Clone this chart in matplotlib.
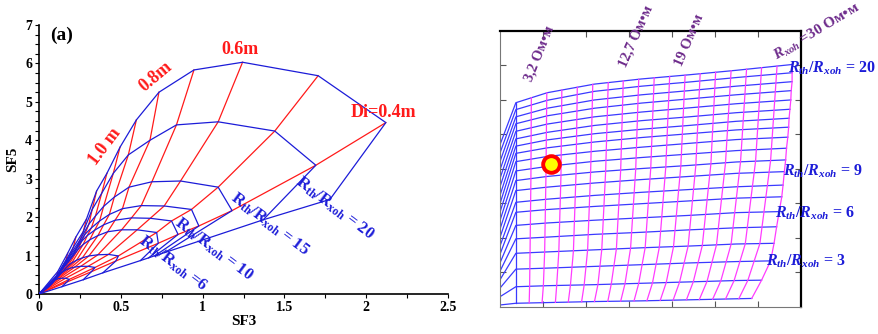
import numpy as np
import matplotlib.pyplot as plt
from matplotlib.ticker import MultipleLocator, FuncFormatter

plt.rcParams['font.family'] = ['Liberation Serif', 'DejaVu Serif']
plt.rcParams['font.weight'] = 'bold'
plt.rcParams['mathtext.fontset'] = 'custom'
plt.rcParams['mathtext.rm'] = 'Liberation Serif:bold'
plt.rcParams['mathtext.it'] = 'Liberation Serif:italic:bold'
plt.rcParams['mathtext.bf'] = 'Liberation Serif:bold'

# ---------- panel (a): SF3 / SF5 chart ----------
# invasion diameters (red lines) and Rth/Rxoh values (blue lines)
di_values = [0.4, 0.5, 0.6, 0.7, 0.8, 0.9, 1.0, 1.1, 1.2, 1.4, 1.6, 1.8, 2.0]
ratio_values = [2, 3, 4, 6, 8, 10, 15, 20, 30]

sf3_grid = [
    [0.17, 0.185, 0.162, 0.138, 0.12, 0.105, 0.093, 0.083, 0.074, 0.061, 0.05, 0.04, 0.028],
    [0.32, 0.342, 0.30, 0.255, 0.218, 0.19, 0.166, 0.146, 0.13, 0.107, 0.087, 0.069, 0.048],
    [0.47, 0.485, 0.425, 0.36, 0.305, 0.265, 0.23, 0.2, 0.178, 0.148, 0.12, 0.094, 0.064],
    [0.729, 0.719, 0.60, 0.505, 0.42, 0.36, 0.31, 0.27, 0.24, 0.195, 0.155, 0.12, 0.082],
    [0.85, 0.81, 0.68, 0.565, 0.465, 0.395, 0.34, 0.295, 0.26, 0.215, 0.17, 0.13, 0.09],
    [0.977, 0.932, 0.765, 0.625, 0.51, 0.43, 0.37, 0.32, 0.28, 0.23, 0.18, 0.14, 0.095],
    [1.18, 1.095, 0.865, 0.69, 0.55, 0.46, 0.395, 0.345, 0.305, 0.25, 0.195, 0.15, 0.10],
    [1.692, 1.441, 1.095, 0.84, 0.678, 0.546, 0.454, 0.383, 0.325, 0.27, 0.21, 0.165, 0.108],
    [2.12, 1.706, 1.244, 0.947, 0.733, 0.595, 0.495, 0.415, 0.352, 0.29, 0.225, 0.175, 0.114],
]
sf5_grid = [
    [0.31, 0.38, 0.41, 0.41, 0.40, 0.38, 0.36, 0.33, 0.30, 0.25, 0.20, 0.15, 0.09],
    [0.58, 0.69, 0.72, 0.72, 0.70, 0.67, 0.63, 0.58, 0.53, 0.43, 0.34, 0.25, 0.15],
    [0.86, 0.99, 1.03, 1.02, 0.99, 0.94, 0.88, 0.81, 0.74, 0.60, 0.47, 0.35, 0.20],
    [1.32, 1.60, 1.67, 1.67, 1.62, 1.52, 1.41, 1.29, 1.17, 0.92, 0.71, 0.51, 0.29],
    [1.55, 1.90, 1.97, 1.98, 1.92, 1.80, 1.66, 1.52, 1.37, 1.07, 0.82, 0.59, 0.33],
    [1.77, 2.20, 2.29, 2.30, 2.22, 2.07, 1.90, 1.72, 1.55, 1.21, 0.92, 0.66, 0.37],
    [2.17, 2.78, 2.94, 2.92, 2.78, 2.52, 2.28, 2.03, 1.82, 1.40, 1.05, 0.76, 0.42],
    [3.35, 4.24, 4.48, 4.40, 4.00, 3.62, 3.14, 2.62, 2.20, 1.62, 1.22, 0.88, 0.48],
    [4.46, 5.68, 6.03, 5.83, 5.25, 4.53, 3.82, 3.14, 2.68, 1.95, 1.48, 1.06, 0.58],
]
# lowest (shallow) curve, drawn in blue
sf3_low = [0.14, 0.27, 0.39, 0.62, 0.67, 0.71, 0.77, 1.37, 1.778]
sf5_low = [0.19, 0.37, 0.55, 0.87, 0.94, 1.00, 1.08, 1.93, 2.46]

# ---------- panel (b): grid chart ----------
rth_ratio = list(range(1, 21))
row_x_anchor = [0, 0.37, 1.1, 2.2, 3.3, 4.4, 5.5]
row_x_end = [5.86, 6.09, 6.30, 6.38, 6.44, 6.50, 6.56, 6.59, 6.62, 6.65,
             6.67, 6.70, 6.72, 6.73, 6.75, 6.77, 6.78, 6.80, 6.80, 6.81]
row_y = [
    [0.05, 0.10, 0.12, 0.15, 0.17, 0.20, 0.23, 0.24],
    [0.29, 0.58, 0.61, 0.64, 0.68, 0.72, 0.76, 0.77],
    [0.54, 1.09, 1.12, 1.17, 1.22, 1.27, 1.31, 1.33],
    [0.78, 1.55, 1.59, 1.65, 1.71, 1.76, 1.82, 1.84],
    [1.03, 1.97, 2.02, 2.10, 2.16, 2.23, 2.29, 2.32],
    [1.27, 2.36, 2.43, 2.51, 2.58, 2.65, 2.73, 2.76],
    [1.52, 2.74, 2.82, 2.91, 2.99, 3.07, 3.15, 3.19],
    [1.76, 3.03, 3.12, 3.23, 3.32, 3.40, 3.48, 3.53],
    [2.01, 3.37, 3.47, 3.59, 3.69, 3.78, 3.87, 3.92],
    [2.25, 3.66, 3.78, 3.91, 4.01, 4.10, 4.20, 4.26],
    [2.50, 3.94, 4.07, 4.22, 4.33, 4.43, 4.53, 4.60],
    [2.74, 4.21, 4.36, 4.51, 4.63, 4.74, 4.85, 4.92],
    [2.99, 4.45, 4.61, 4.78, 4.91, 5.02, 5.13, 5.21],
    [3.23, 4.66, 4.84, 5.02, 5.15, 5.26, 5.38, 5.47],
    [3.48, 4.87, 5.06, 5.26, 5.40, 5.51, 5.63, 5.73],
    [3.72, 5.09, 5.30, 5.51, 5.65, 5.77, 5.89, 6.00],
    [3.97, 5.31, 5.54, 5.76, 5.91, 6.03, 6.15, 6.27],
    [4.21, 5.51, 5.76, 6.00, 6.15, 6.27, 6.40, 6.53],
    [4.46, 5.72, 5.99, 6.25, 6.40, 6.52, 6.65, 6.79],
    [4.70, 5.92, 6.21, 6.46, 6.61, 6.73, 6.86, 7.03],
]
# x of each Rxoh column where it meets rows 1, 2, 4, 10 and 20
col_rows = [1, 2, 4, 10, 20]
col_x = [
    [0.68, 0.98, 1.29, 1.59, 1.90, 2.20, 2.51, 2.81, 3.12, 3.42, 3.73, 4.03, 4.34, 4.64, 4.95, 5.25, 5.56],
    [0.69, 1.01, 1.32, 1.64, 1.96, 2.28, 2.59, 2.91, 3.23, 3.55, 3.87, 4.18, 4.50, 4.82, 5.14, 5.45, 5.77],
    [0.70, 1.04, 1.37, 1.71, 2.04, 2.37, 2.71, 3.04, 3.38, 3.71, 4.04, 4.38, 4.71, 5.04, 5.38, 5.71, 6.05],
    [0.72, 1.07, 1.42, 1.77, 2.11, 2.46, 2.81, 3.16, 3.51, 3.86, 4.21, 4.56, 4.91, 5.25, 5.60, 5.95, 6.30],
    [0.73, 1.09, 1.44, 1.80, 2.16, 2.52, 2.87, 3.23, 3.59, 3.95, 4.31, 4.66, 5.02, 5.38, 5.74, 6.09, 6.45],
]
well_point = (1.19, 4.13)

BLUE = '#1c1cd8'
RED = '#ff1a1a'
ROWBLUE = '#3a3aff'
MAGENTA = '#ff3cff'
PURPLE = '#6e2c8c'

fig = plt.figure(figsize=(8.79, 3.34), dpi=100)

# ===== left panel =====
ax = fig.add_axes([0.0444, 0.1198, 0.4653, 0.8054])
sf3 = np.array(sf3_grid)
sf5 = np.array(sf5_grid)

# red lines: constant Di, starting at the origin
for j in range(len(di_values)):
    ax.plot(np.r_[0, sf3[:, j]], np.r_[0, sf5[:, j]], color=RED, lw=0.9, zorder=2)

# blue lines: constant Rth/Rxoh
for i in range(len(ratio_values)):
    xs = np.r_[sf3_low[i], sf3[i], 0]
    ys = np.r_[sf5_low[i], sf5[i], 0]
    ax.plot(xs, ys, color=BLUE, lw=0.9, zorder=3)
ax.plot(np.r_[0, sf3_low], np.r_[0, sf5_low], color=BLUE, lw=0.9, zorder=3)

ax.set_xlim(0, 2.5)
ax.set_ylim(0, 7)
ax.spines['top'].set_visible(False)
ax.spines['right'].set_visible(False)
for s in ['left', 'bottom']:
    ax.spines[s].set_linewidth(1.2)
ax.xaxis.set_major_locator(MultipleLocator(0.5))
ax.xaxis.set_minor_locator(MultipleLocator(0.25))
ax.yaxis.set_major_locator(MultipleLocator(1))
ax.yaxis.set_minor_locator(MultipleLocator(0.25))
ax.xaxis.set_major_formatter(FuncFormatter(lambda v, p: f'{v:g}'))
ax.yaxis.set_major_formatter(FuncFormatter(lambda v, p: f'{v:g}'))
ax.tick_params(which='both', direction='out', length=3, width=0.8, labelsize=10, pad=2)
ax.set_xlabel('SF3', fontsize=11, fontweight='bold', labelpad=1)
ax.set_ylabel('SF5', fontsize=11, fontweight='bold', labelpad=4)

ax.text(0.14, 6.74, '(a)', fontsize=14, ha='center', va='center')
ax.text(1.23, 6.37, '0.6m', color=RED, fontsize=13, ha='center', va='center')
ax.text(0.713, 5.65, '0.8m', color=RED, fontsize=13, ha='center', va='center',
        rotation=40, rotation_mode='anchor')
ax.text(0.403, 3.83, '1.0 m', color=RED, fontsize=13, ha='center', va='center',
        rotation=53, rotation_mode='anchor')
ax.text(2.103, 4.72, 'Di=0.4m', color=RED, fontsize=13, ha='center', va='center')

left_labels = [(20, 1.81, 2.23, ' = 20'), (15, 1.41, 1.80, ' = 15'),
               (10, 1.065, 1.16, ' = 10'), (6, 0.82, 0.80, ' =6')]
for r, lx, ly, tail in left_labels:
    ax.text(lx, ly, r'$\mathrm{R_{th}/R_{xoh}}$' + tail, color=BLUE, fontsize=12,
            ha='center', va='center', rotation=-37, rotation_mode='anchor')

# ===== right panel =====
bx = fig.add_axes([0.5688, 0.0817, 0.3421, 0.8254])
row_paths = []
for i in range(len(rth_ratio)):
    xs = np.r_[row_x_anchor, row_x_end[i]]
    ys = np.array(row_y[i])
    row_paths.append((xs, ys))
    bx.plot(xs, ys, color=ROWBLUE, lw=0.9, zorder=2)

# corner column and right boundary column
bx.plot([row_x_anchor[1]] * len(rth_ratio), [r[1] for r in row_y], color=ROWBLUE, lw=0.9, zorder=2)
bx.plot(row_x_end, [r[-1] for r in row_y], color=MAGENTA, lw=0.9, zorder=3)

for k in range(len(col_x[0])):
    cx = [col_x[m][k] for m in range(len(col_rows))]
    cy = [np.interp(cx[m], *row_paths[col_rows[m] - 1]) for m in range(len(col_rows))]
    bx.plot(cx, cy, color=MAGENTA, lw=0.9, zorder=3)

bx.plot(*well_point, 'o', ms=12, mfc='#ffff00', mec='#ff0000', mew=2.8, zorder=5)

bx.set_xlim(0, 7)
bx.set_ylim(0, 8)
bx.set_xticks(range(1, 7))
bx.set_yticks(range(1, 8))
bx.tick_params(direction='in', length=4, width=0.8, color='#555555',
               top=True, right=True, labelbottom=False, labelleft=False)
bx.spines['top'].set_linewidth(1.6)
bx.spines['right'].set_linewidth(1.6)
bx.spines['left'].set_color('#777777')
bx.spines['bottom'].set_color('#777777')

right_labels = [(20, 6.71, 6.92, ' = 20'), (9, 6.59, 3.92, ' = 9'),
                (6, 6.40, 2.71, ' = 6'), (3, 6.19, 1.31, ' = 3')]
for r, lx, ly, tail in right_labels:
    bx.text(lx, ly, r'$R_{th}/R_{xoh}$' + tail, color=BLUE, fontsize=11.5,
            ha='left', va='center', clip_on=False, zorder=6)

top_labels = [(0.80, 6.50, '3,2 Ом•м', 68), (3.00, 6.88, '12,7 Ом•м', 66),
              (4.30, 6.92, '19 Ом•м', 67)]
for lx, ly, txt, rot in top_labels:
    bx.text(lx, ly, txt, color=PURPLE, fontsize=10.5, ha='left', va='bottom',
            rotation=rot, rotation_mode='anchor', clip_on=False, zorder=6)
bx.text(6.50, 7.05, r'$R_{xoh}$ =30 Ом•м', color=PURPLE, fontsize=11, ha='left', va='bottom',
        rotation=31, rotation_mode='anchor', clip_on=False, zorder=6)

fig.savefig('out.png', dpi=100)
